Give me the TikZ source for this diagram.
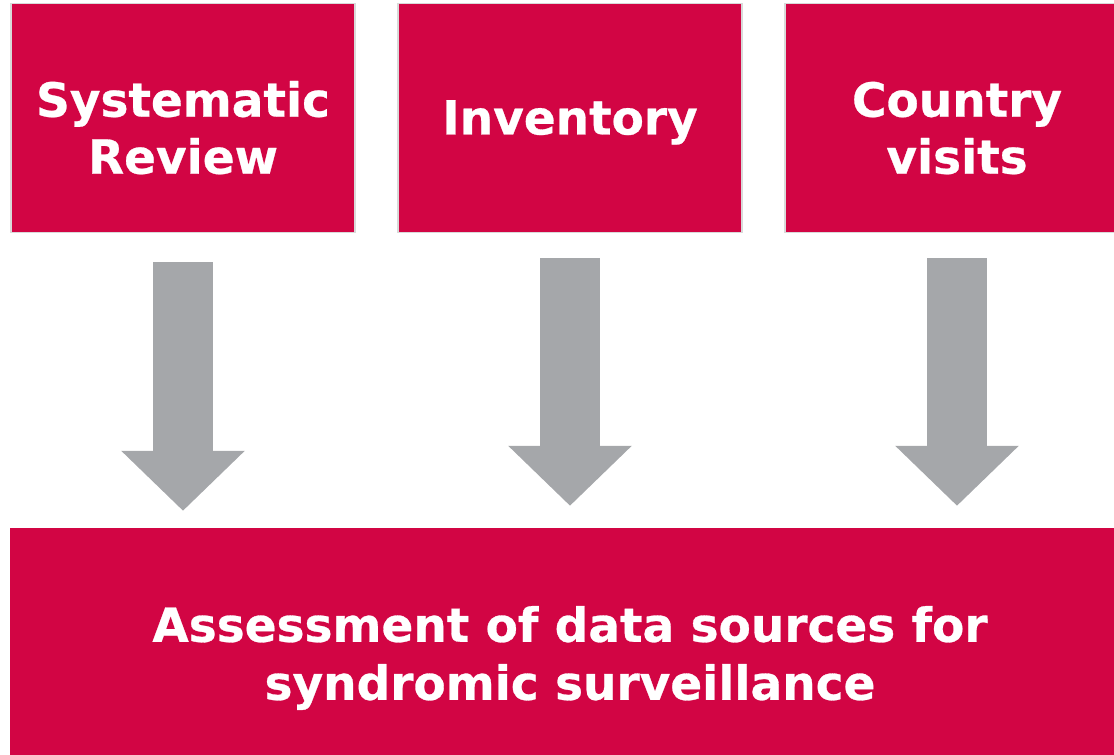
\documentclass[tikz,border=0pt]{standalone}
\usepackage{fontspec}
\setmainfont{DejaVu Sans}[BoldFeatures={FakeBold=0.6}]
\usetikzlibrary{arrows.meta}
\definecolor{crimson}{HTML}{D20544}
\definecolor{arrowgrey}{HTML}{A5A7AA}
\definecolor{edgegrey}{HTML}{D9D9D9}

\begin{document}
\begin{tikzpicture}[x=1pt,y=-1pt,node distance=387pt,
                top node/.style={draw=edgegrey, line width=1.5pt, fill=crimson,
                  text=white, font=\bfseries\fontsize{47}{57}\selectfont,
                  align=center, minimum width=344pt, minimum height=229pt,
                  inner sep=0pt, text height=112pt},
                bottom node/.style={fill=crimson, text=white,
                  font=\bfseries\fontsize{47}{58}\selectfont,
                  align=center, minimum width=1120pt, minimum height=260pt, inner sep=0pt},
                flow/.style={draw=arrowgrey, line width=60pt,
                  -{Triangle[length=60pt,width=120pt]}}]

  \path[use as bounding box, clip] (0,0) rectangle (1114,755);

  \node[top node] (review) at (183,118) {Systematic\\Review};
  \node[top node, text height=43pt] (inventory) [right of=review] {Inventory};
  \node[top node] (visits) [right of=inventory] {Country\\visits};
  \node[bottom node] (assessment) at (570,658) {Assessment of data sources for\\syndromic surveillance};

  \path
    (review.south) edge [flow, shorten <=29pt, shorten >=17pt] (review.south |- assessment.north)
    (inventory.south) edge [flow, shorten <=25pt, shorten >=22pt] (inventory.south |- assessment.north)
    (visits.south) edge [flow, shorten <=25pt, shorten >=22pt] (visits.south |- assessment.north);
\end{tikzpicture}
\end{document}
